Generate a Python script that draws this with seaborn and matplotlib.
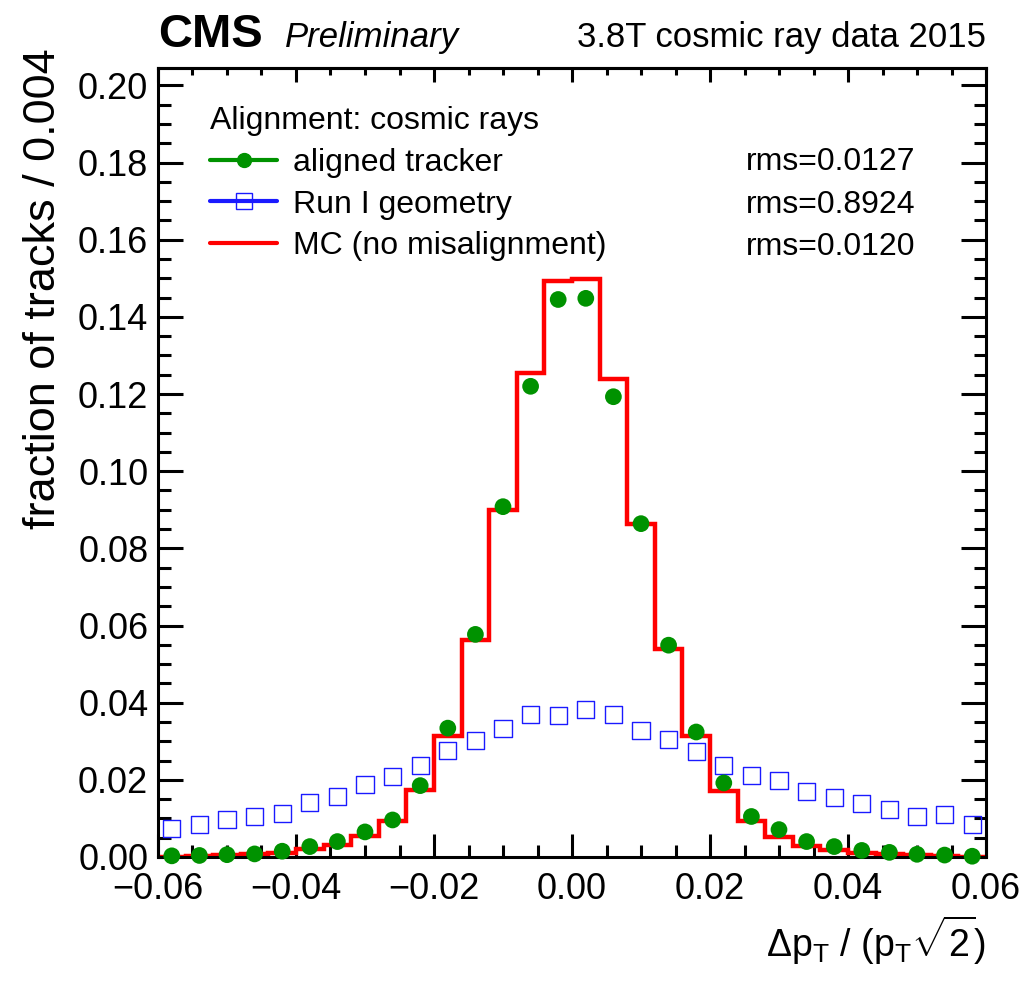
import numpy as np
import pandas as pd
import matplotlib
matplotlib.use("Agg")
import matplotlib.pyplot as plt
from matplotlib.lines import Line2D
from matplotlib.ticker import MultipleLocator, FixedLocator, FuncFormatter
import seaborn as sns

# ---------------- data ----------------
bin_edges = np.linspace(-0.06, 0.06, 31)          # 30 bins of width 0.004
bin_centers = 0.5 * (bin_edges[:-1] + bin_edges[1:])

aligned_tracker = [0.0003, 0.0004, 0.0006, 0.0008, 0.0015, 0.0027, 0.0040, 0.0065,
                   0.0096, 0.0185, 0.0334, 0.0577, 0.0908, 0.1220, 0.1445, 0.1448,
                   0.1193, 0.0864, 0.0549, 0.0324, 0.0192, 0.0105, 0.0071, 0.0040,
                   0.0027, 0.0017, 0.0012, 0.0007, 0.0005, 0.0002]

run1_geometry = [0.0074, 0.0085, 0.0096, 0.0104, 0.0113, 0.0141, 0.0156, 0.0187,
                 0.0208, 0.0236, 0.0277, 0.0301, 0.0333, 0.0370, 0.0368, 0.0382,
                 0.0370, 0.0328, 0.0304, 0.0273, 0.0238, 0.0212, 0.0199, 0.0171,
                 0.0154, 0.0139, 0.0123, 0.0104, 0.0109, 0.0085]

mc_no_misalignment = [0.0001, 0.0002, 0.0005, 0.0007, 0.0011, 0.0020, 0.0031, 0.0055,
                      0.0093, 0.0174, 0.0313, 0.0562, 0.0899, 0.1255, 0.1492, 0.1497,
                      0.1240, 0.0862, 0.0540, 0.0313, 0.0171, 0.0093, 0.0051, 0.0029,
                      0.0018, 0.0011, 0.0008, 0.0005, 0.0002, 0.0001]

legend_title = "Alignment: cosmic rays"
series_labels = ["aligned tracker", "Run I geometry", "MC (no misalignment)"]
rms_labels = ["rms=0.0127", "rms=0.8924", "rms=0.0120"]
x_ticks = [-0.06, -0.04, -0.02, 0.00, 0.02, 0.04, 0.06]
y_ticks = [0.00, 0.02, 0.04, 0.06, 0.08, 0.10, 0.12, 0.14, 0.16, 0.18, 0.20]

GREEN = "#009200"
BLUE = "#1a1aff"
RED = "#ff0000"

# ---------------- style ----------------
sns.set_style("ticks")
plt.rcParams["font.family"] = ["Liberation Sans", "DejaVu Sans"]
plt.rcParams["mathtext.fontset"] = "custom"
plt.rcParams["mathtext.rm"] = "Liberation Sans"
plt.rcParams["mathtext.it"] = "Liberation Sans:italic"
plt.rcParams["mathtext.bf"] = "Liberation Sans:bold"
plt.rcParams["axes.unicode_minus"] = True
for key in ["text.color", "axes.labelcolor", "xtick.color", "ytick.color",
            "axes.edgecolor", "xtick.labelcolor", "ytick.labelcolor"]:
    plt.rcParams[key] = "black"

fig = plt.figure(figsize=(10.31, 9.83), dpi=100)
W, H = 1031, 983
ax = fig.add_axes([158 / W, (H - 857) / H, 828 / W, 789 / H])

mc_df = pd.DataFrame({"x": bin_centers, "w": mc_no_misalignment})

# MC histogram (step outline)
sns.histplot(data=mc_df, x="x", weights="w", binwidth=0.004, binrange=(-0.06, 0.06),
             element="step", fill=False, color=RED, linewidth=3.2,
             solid_joinstyle="miter", ax=ax, zorder=2)

# Run I geometry: open squares
sns.scatterplot(x=bin_centers, y=run1_geometry, marker="s", s=150,
                facecolor="none", edgecolor=BLUE, linewidth=1.0,
                ax=ax, zorder=3, clip_on=False, legend=False)

# aligned tracker: filled circles
sns.scatterplot(x=bin_centers, y=aligned_tracker, marker="o", s=145,
                color=GREEN, edgecolor="none", linewidth=0,
                ax=ax, zorder=4, clip_on=False, legend=False)

ax.set_xlim(-0.06, 0.06)
ax.set_ylim(0.0, 0.2045)

for sp in ax.spines.values():
    sp.set_linewidth(2.2)
    sp.set_color("black")
    sp.set_visible(True)

def fmt(v, p):
    s = f"{v:.2f}"
    if abs(v) < 1e-9:
        s = "0.00"
    return s.replace("-", "\u2212")

ax.xaxis.set_major_locator(FixedLocator(x_ticks))
ax.xaxis.set_minor_locator(MultipleLocator(0.005))
ax.yaxis.set_major_locator(FixedLocator(y_ticks))
ax.yaxis.set_minor_locator(MultipleLocator(0.005))
ax.xaxis.set_major_formatter(FuncFormatter(fmt))
ax.yaxis.set_major_formatter(FuncFormatter(fmt))

ax.tick_params(which="both", direction="in", width=2.2, color="black",
               labelcolor="black", top=False, right=True, labelsize=26)
ax.tick_params(axis="x", which="major", length=16.5, pad=11)
ax.tick_params(axis="x", which="minor", length=8.5)
ax.tick_params(axis="y", which="major", length=18, pad=7)
ax.tick_params(axis="y", which="minor", length=9)

top = ax.secondary_xaxis("top")
top.xaxis.set_major_locator(FixedLocator(x_ticks))
top.xaxis.set_minor_locator(MultipleLocator(0.005))
top.tick_params(which="both", direction="in", width=2.2, labeltop=False, color="black")
top.tick_params(which="major", length=10)
top.tick_params(which="minor", length=5)
top.spines["top"].set_linewidth(2.2)

# axis labels
ax.set_xlabel(r"$\Delta\mathrm{p}_{\mathrm{T}}$ / ($\mathrm{p}_{\mathrm{T}}\sqrt{2}$)",
              fontsize=27, loc="right", labelpad=5, color="black")
ax.set_ylabel("fraction of tracks / 0.004", fontsize=32.5, loc="top", color="black")
ax.yaxis.set_label_coords(-0.1135, 1.025)

# header
yb = (857 - 47) / 789
ax.text(0.0, yb, "CMS", fontsize=34, fontweight="bold", transform=ax.transAxes,
        ha="left", va="baseline", color="black")
ax.text((285 - 158) / 828, yb, "Preliminary", fontsize=25, style="italic",
        transform=ax.transAxes, ha="left", va="baseline", color="black")
ax.text(1.0, yb, "3.8T cosmic ray data 2015", fontsize=25, transform=ax.transAxes,
        ha="right", va="baseline", color="black")

# legend
handles = [
    Line2D([], [], color=GREEN, marker="o", markersize=10, lw=3),
    Line2D([], [], color=BLUE, marker="s", markerfacecolor="none",
           markeredgecolor=BLUE, markersize=12, markeredgewidth=1.0, lw=3),
    Line2D([], [], color=RED, lw=3),
]
leg = ax.legend(handles, series_labels, title=legend_title, loc="upper left",
                bbox_to_anchor=((210 - 158) / 828, (857 - 106) / 789),
                frameon=False, fontsize=23, title_fontsize=23, alignment="left",
                borderpad=0, borderaxespad=0, handlelength=2.1,
                handletextpad=0.5, labelspacing=0.37)
for t in leg.get_texts():
    t.set_color("black")
leg.get_title().set_color("black")

for lab, yy in zip(rms_labels, [170, 213, 255]):
    ax.text((915 - 158) / 828, (857 - yy) / 789, lab, fontsize=23,
            transform=ax.transAxes, ha="right", va="baseline", color="black")

fig.savefig("out.png", dpi=100)
